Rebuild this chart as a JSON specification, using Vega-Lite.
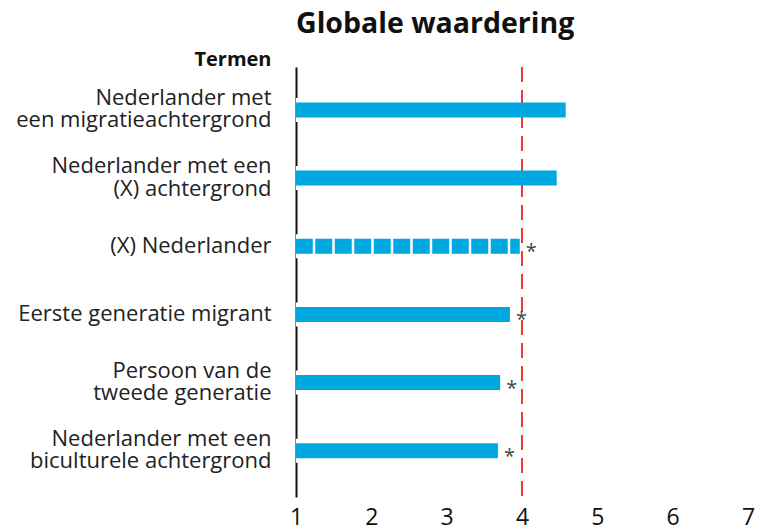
{
  "$schema": "https://vega.github.io/schema/vega-lite/v6.json",
  "width": 452,
  "height": 430,
  "autosize": {"type": "none"},
  "padding": {"left": 296, "top": 67, "right": 12, "bottom": 33},
  "background": "white",
  "title": {
    "text": "Globale waardering",
    "anchor": "start",
    "frame": "group",
    "font": "Open Sans",
    "fontSize": 28.5,
    "fontWeight": "bold",
    "color": "#111111",
    "baseline": "alphabetic",
    "offset": -12
  },
  "config": {
    "view": {"stroke": null},
    "font": "Open Sans"
  },
  "data": {
    "values": [
      {"term": "Nederlander met|een migratieachtergrond", "value": 4.58, "star": false, "dashed": false},
      {"term": "Nederlander met een|(X) achtergrond", "value": 4.46, "star": false, "dashed": false},
      {"term": "(X) Nederlander", "value": 3.97, "star": true, "dashed": true},
      {"term": "Eerste generatie migrant", "value": 3.84, "star": true, "dashed": false},
      {"term": "Persoon van de|tweede generatie", "value": 3.71, "star": true, "dashed": false},
      {"term": "Nederlander met een|biculturele achtergrond", "value": 3.68, "star": true, "dashed": false}
    ]
  },
  "layer": [
    {
      "mark": {"type": "rule", "color": "white", "strokeWidth": 24},
      "encoding": {
        "y": {
          "field": "term",
          "type": "nominal",
          "sort": null,
          "scale": {"paddingInner": 0, "paddingOuter": 0.155, "align": 0.42},
          "axis": {
            "title": "Termen",
            "titleAngle": 0,
            "titleAlign": "right",
            "titleBaseline": "alphabetic",
            "titleX": -25,
            "titleY": -2,
            "titleFontSize": 20,
            "titleFontWeight": "bold",
            "titleColor": "#111111",
            "labelExpr": "split(datum.label, '|')",
            "labelFontSize": 22,
            "labelLineHeight": 22.5,
            "labelOffset": {"condition": {"test": "indexof(datum.value, '|') >= 0", "value": -12}, "value": 0},
            "labelPadding": 25,
            "labelColor": "#222222",
            "labelLimit": 0,
            "ticks": false,
            "domainColor": "#111111",
            "domainWidth": 2
          }
        },
        "x": {
          "field": "value",
          "type": "quantitative",
          "scale": {"domain": [1, 7], "zero": false},
          "axis": {
            "values": [1, 2, 3, 4, 5, 6, 7],
            "format": "d",
            "title": null,
            "domain": false,
            "ticks": false,
            "grid": false,
            "labelFontSize": 23,
            "labelPadding": 9,
            "labelColor": "#111111",
            "labelFlush": false
          }
        },
        "x2": {"datum": 1}
      }
    },
    {
      "data": {"values": [{"ref": 4}]},
      "mark": {"type": "rule", "color": "#ee3b33", "strokeWidth": 2, "strokeDash": [15, 8]},
      "encoding": {
        "x": {"field": "ref", "type": "quantitative"}
      }
    },
    {
      "transform": [{"filter": "!datum.dashed"}],
      "mark": {"type": "rule", "color": "#00a8e1", "strokeWidth": 15, "strokeCap": "butt"},
      "encoding": {
        "y": {"field": "term", "type": "nominal", "sort": null},
        "x": {"field": "value", "type": "quantitative"},
        "x2": {"datum": 1}
      }
    },
    {
      "transform": [{"filter": "datum.dashed"}],
      "mark": {"type": "rule", "color": "#00a8e1", "strokeWidth": 15, "strokeDash": [17, 2.5], "strokeDashOffset": 7.5, "strokeCap": "butt"},
      "encoding": {
        "y": {"field": "term", "type": "nominal", "sort": null},
        "x": {"field": "value", "type": "quantitative"},
        "x2": {"datum": 1}
      }
    },
    {
      "transform": [{"filter": "datum.star"}],
      "mark": {"type": "text", "text": "*", "align": "left", "baseline": "alphabetic", "dx": 6, "dy": 12, "fontSize": 20, "color": "#444444"},
      "encoding": {
        "y": {"field": "term", "type": "nominal", "sort": null},
        "x": {"field": "value", "type": "quantitative"}
      }
    }
  ]
}
